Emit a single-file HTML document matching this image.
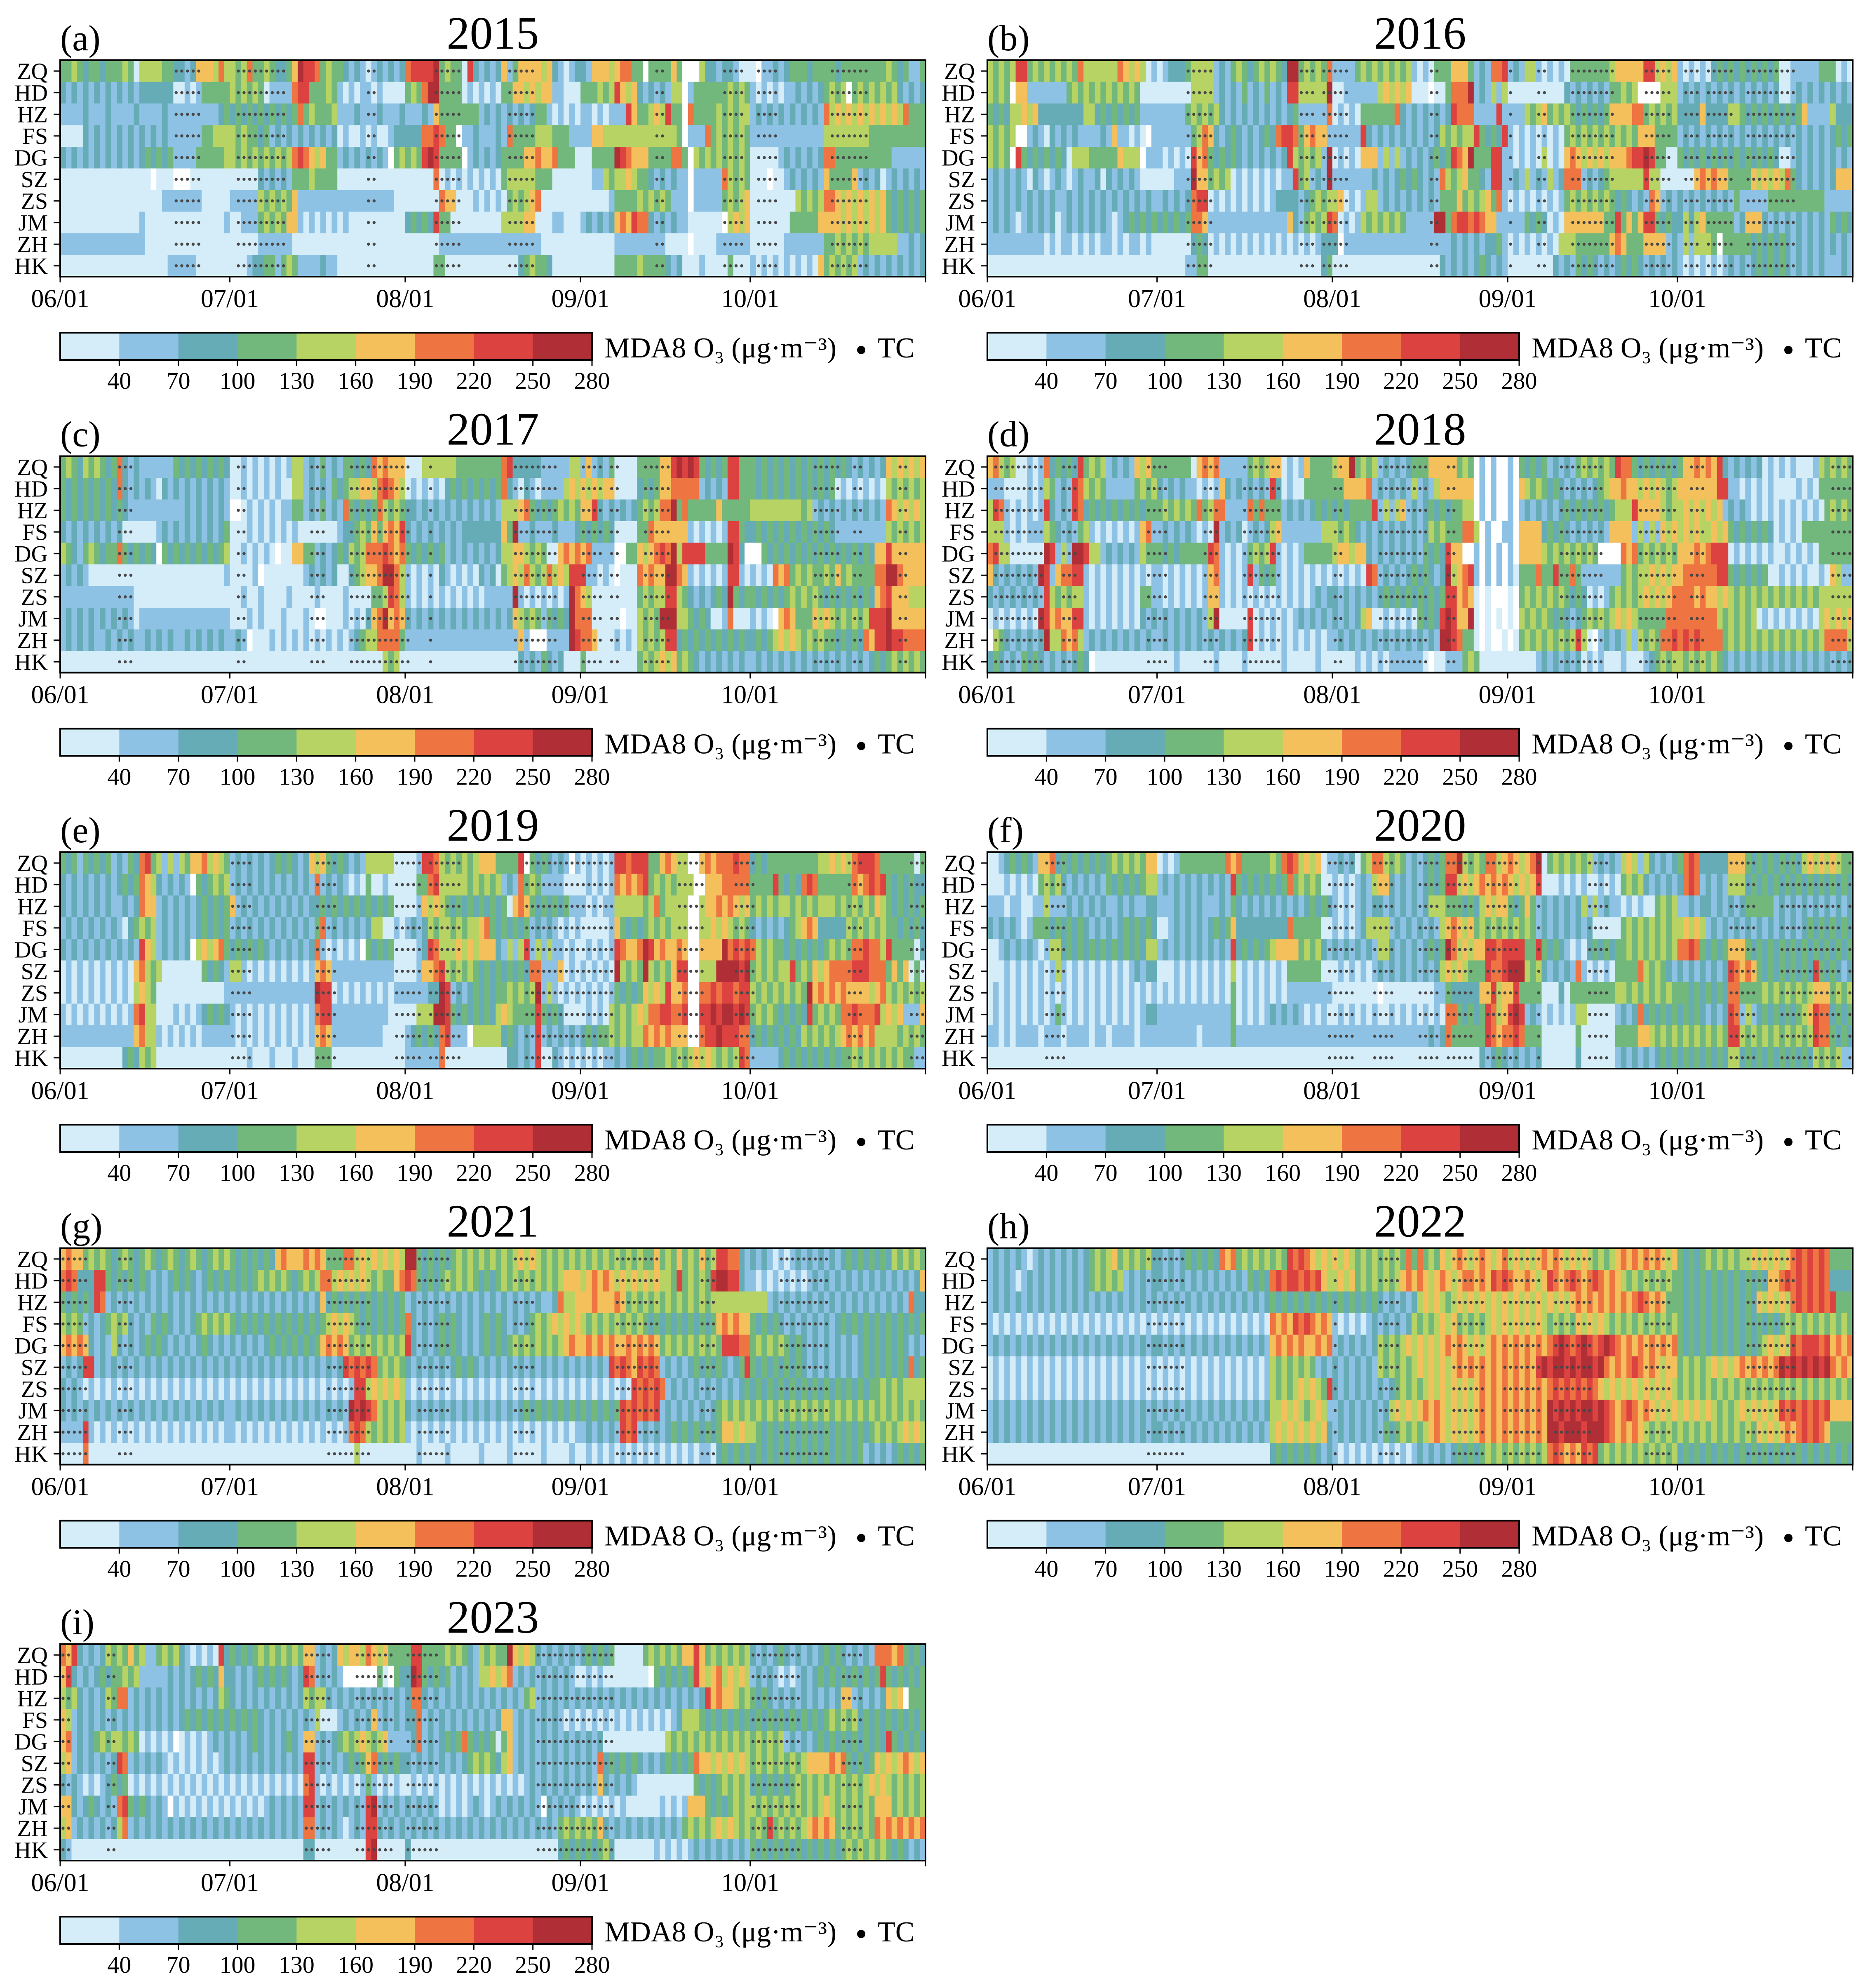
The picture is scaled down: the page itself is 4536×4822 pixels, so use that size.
<!DOCTYPE html>
<html>
<head>
<meta charset="utf-8">
<style>
  html,body{margin:0;padding:0;background:#fff;}
  svg{display:block;}
  text{font-family:"Liberation Serif","DejaVu Serif",serif;fill:#000;}
</style>
</head>
<body>
<svg id="chart" width="4536" height="4822" viewBox="0 0 4536 4822" xmlns="http://www.w3.org/2000/svg"></svg>
<script>
// ===== data =====
const stations = ["ZQ","HD","HZ","FS","DG","SZ","ZS","JM","ZH","HK"];
const years = [2015,2016,2017,2018,2019,2020,2021,2022,2023];
const binTickLabels = [40,70,100,130,160,190,220,250,280];
const dateTickLabels = ["06/01","07/01","08/01","09/01","10/01"];
const dateTickDays = [0,30,61,92,122];
const monthLengths = [30,31,31,30,31];
const binColors = ["#d4edf9","#8dc2e5","#66acb7","#72b87c","#b6d363","#f4c05c","#ee7442","#db4240","#b02e35"];

// MDA8 O3 bin codes per station (0..8 = colour-bar bins, w = missing), months separated by |
const o3_2015 = [
"33 4 32332333 4 3 0 44443 32212 5554 6 4|434 6 3343223 5 8776 34332 1210121212|677778 3433 0 7 21212 5 13 555545 2101 2|215 5545 66 33 w 3333 5 3 www 4 22122100|0w1 121 23332333 3233333 33343 23113",
"21212121212121 222222 00101 33333|434 343 0 1111 6 77 33 343 1010110100 00|343 6 88 3333 0101010 33 5545455 11 000|333 434 7 545 212121 44 w 1 33333 34343|1010101 121212 3434 w 34343434 21212",
"11112111211112111121111 11111 23|232323232323 6 343334 111211121112|11121 5 3333333 1212121212 33 101010|11010111 7 5 33 454 7 33w 6 3333 434344|1212121212121 6 4545454545454 6 333",
"0000 212121212121212 111111 334 44|434 33231212 12121212 0100101001 22|222 6676 33 w 11211121 6 3333 444 333 11|11 55 444444444444 43 w 111 6 3434343|1111111111111 44444444 3333333333",
"212121212121212 32323 1111 333334|43434343434 6 76 545 33 121212121 w 34|343 787 3333 w 121212 3333 556556 333 0|003 333 876 555 3333 66 3 w 4343434343|00000 12121212 66 3333333333 111111",
"0000000000000000 w 000 www 0000000|00000 212121 33343333 000000000000|00000 6 01010101010 34444433 300000|0011 43445433 212121 1 w 11111 6 4343|000w00 1212121 5 3333 5 121201212121",
"000000000000000000 1111111 00000|11111 434343 5 11111111111111111 00|000000 6 55 000101010 3434 56 0000000|000001 3333 434343 111 w 11111 34345|00000000 43434 66 545454545 3232323",
"000000000000001000000000000001|00111 34343 55 1010101010000000000|23232 7 33 000000000 4444 55 00011000|121212 56 5 7 66 212121 1 00000 0 w 4545|0000000 33333 5555 45454545 3232323",
"111111111111111000000000000000|0000011111100000000000000000000|000000 111111111111111111 0000000|000000 111111111 0000 w 0000 111111|000000 1111111 33434343 44444 11212",
"0000000000000000000 11111 000000|0001 22331343 1111211 000000000000|00000 33 0000000000000 234332 00000|000000 333343333 212 000100003000|101010101010 5 343434 121212121212"
];
const o3_2016 = [
"43434 77 343434343 6 444444 6 5454 01|0122 234444 121 3432343432 88 34343 6|1111 3434343434 1010 333 555 3121 66 7|121 44 101010 3333333 455555 77 4545|101010 232323232323 00 11111 333 010",
"4343 w 55 1111111 3434343434343 000|000000 4444 1212131213121 77 44444 8|00 111111 454545 000w00 3 666 8 121414|0000000000 21212121 33434 wwww 444|121212121212121212 00 12121212121",
"3232 44545 22222222 44 23232323 111|11111 343434 2121212121212 3 11111 6|01010 333333 6 212121212 7 666 1111 7 1|111 43453 434 3232323 5555 66 343434|2222 5 2222 44 32323232323 5 1111 4 222",
"43434 ww 121021212111121 5 11010 w 1|111111 3465 21232121232 6776 3 5655 1|11111 7 2121212121212 434344 7 3232 7|1010101010 3434343434343 555 3333|1212121212121212121212121212323",
"4343 w 7 32323232 0 444 33333 5 444 w 11|101010 7 56 32323212121212 7 434341 8|01010 555 1414121212 323 76 5 8 333 77 1|1010104010 565 45454 555 67787 33 00|323232323232323232 00 12121212121",
"121212102101210121 120212121 000|0001 11 8 55 3434 0101010101 1 7 34121 8|1111111 212123232121 6 434 5 3321 77 1|1214121412 666 121234 44444 7 44 000|000 565655 3333 545454 6 32121212 555",
"121212121212112121212121212121|121212 677 010101010101 2222 123434|45 0101 44 12121212121 33 3 5 3434 5 3 6 1|0101010101 34343434 3232121 65 121|2121212121 3 11111 3333333333 11111",
"121210121212012121212101232323|232323 665 11111111111111 5 213434 7|6 0101 43434343 11111 88 3 67 7676 55 11|111 3232010 5555555 33 7 3535 77 3232|2424 5 33333 12 555 2121212121213232",
"111111111101011010101101011010|000000 232 01010101010101010101 22|2 w 1111111111111111111 2121212 23 1|010101010 444 333333 565 333 5555 12|1414 44 3 w 3333 32323232 12121212121",
"000000000000000000000000000000|000001 133 00000000000000000000 23|0000000000000000000 212121232121|00000000 2121323212123232121212|1010101012121232323212121211121"
];
const o3_2017 = [
"3432434323 6 2121 11111 3232323232|00101010101 44 12131213 3232 6 56555|000 444444 33333333 67 22222 11111 44|151213 0000 3333 55 78787 32323 77 33|323232323232323232 121212 5454545",
"3232323232 6 212121 0 212121212121|00101010100 44 12121323 44 55 4 676 54|0101010 2323232323 6 210210 1111 454|545455 0000 2323 5566 666 12121 77 33|323232323232323 010101010 4343434",
"323232323232111111111121212121|ww 010101011 33 1213121 6 32323 6 4343|22121212121212121 444 56 323234343|55 7 2121212 3434 66 8 36 33333 5 33333|4444 4444434 1212121212121 6 545454",
"212121212120000001212121212123|000101010101000 000012 23435 3565 7|21212121212 222222 5 3 8 11211121112|323232 0000 336 555555 1010101 77 32|232323232323232 111111111 4343434",
"4321343233 6 323232 w 32323232323 4|00101010 w 00 55 33 121232 4346 66 7 656|3232323 1212121212 44 55 4343 00 5656|5 6 1111 ww 33545 676 8 4 7777 3333 87 2w|ww 32323232323232323232 55 7 555555",
"121210000000000000000000000001|00001 w 0000000 121212 00234 556 88 64|10101021010102120 345 4 6 434 6 454 77|71 1010 w 000 656 55 88 65 1010101 77 10|1010 656 34343 3435343 333 66 88 6 5555",
"111111111111100000000000000000|0010010000100001000010000 334 76 4|1010101010101011111 8 10101010 1 8 6|54 00000000 34344 77 43 2121232 8 323|3232323434343 232323232 5 67 555 444",
"121212121212101111111111111111|000101000100010 ww 00010102 5 6 8 565|21212121212121212125 434313232 8 6|66 00000 w 00 4343 888 44 3232001 6 000|1010 w 565 333 5454 343434 777 8 555555",
"121212112121211212121121212121|121 w 000101010101010101 2344 6666 3|11111111111111111111 5 1 www 1111 8 7|66 5000 1010 43434 77 2323232323232|2323 4545434343 323232 65 77 8 7 7 6666",
"000000000000000000000000000000|000000000000000000000000000 4340|00000000000000000000 21213212 000|30 00000000 3434545343 2121212121|1212121212121212121212323434343"
];
const o3_2018 = [
"56 434 00101 6 23232 7 3434 12121 545 3|333333 0 5656 11111 343455 0101 5 3333|455 8 3434 121212 333 5555 5343 w1w1ww|1w 32323121213434343 766 32323232|3 556565 7 2121212 0101010001 434343",
"111 000 0101 43 121 76 4343 11111 3434|21212 110101 5 21212121 7 20100 33333|33 5555 6 12121214121 45 55555 w1w1ww|1w 5434 323212121234 55655 4545434|5555555 77 11010101 00001010 333333",
"4 7 6 1010101 7 2121 76 2323232323233|3434343 6 346 6 1111 63 6 333 121212323|2323 333 7 1414 5 121232323 344 w1w1ww|1w 12121212 323232323 444 7 5555 434|45454545 121210101010101010 34343",
"444 1010111 43 2121 34 101010101 56 1|1212121010 8 121201212 45 1111111 44|4343 2121212121212 434 333 66 4w1ww1|1w 5555 232321212121 5555 14141545|454544545 32323232 01010 333333333",
"67 44 000000 87 141 887 44 12121214 33|323233333 76 10101 3434 7 10101 33333|455455 21212121213232 7 55 ww 1w1w1w|1w 5555 4343434343 wwww 656 3434343|555656 777 0101010100101010 333333",
"5 21212121 87 15 66 77 1010101010101|101010101 56 10101 7 1323 1010101010|101010 76 121212323212 8 456 7 1w1w1w|103 3363 373 363 111 1111 3434 454545|5666666 77 3232323 00101010010 54 11",
"2121212121 7 4343 44 1010101010 33 1|101010101 55 10101010101010101212|21212121232323232323 77 565 0w0www|0w 34343434 32320101 343434 545456|666565 5454 343434343434343 444444",
"010101010 87 565 577 1010101010212|121212121 48 00000 7 01010101212121|21212 45 001010103232 787 55 8 0w0w0w|0w 43434323212343434 5454 33333 66|666666 6 4343434 01010101010 454545",
"w 432121212 8 44 656 4 1212121212121|1212121212121212 7 01010101010101|1212121212121212121 887 6 33 0w0ww0|w0 3434343434 7 40 w 1212 1414343 667|67676666 343434343434343434 6666 4",
"232121323212121232 w000 00000000|0001000000100001000000100000100|00001010101111110 w00 111 343 00000|00000 1212121201010 00100012 3434|43434343 21212121212121212121212"
];
const o3_2019 = [
"32313232312132 6 7 34141435 56454 3|12121212323212 545 3232121 44444 00|001 77 6 4343434 555 3333 7 w 3232121 w 1|010101 77 6 777 33 565 44 ww 5656 66766|2323 33333333 445454 67776 3333 3303",
"21212121212 323 6 54 212121 w 323434|121212121212121 6 121210103 001000|0033 67 44444343434 121 6 343 1111 000|010101 656567 34343 444 ww 555 66666|3333 7 3232 676 333333 65676 7 3232322",
"21212121211212 6 55 1212121 232323|5 12121212121212 23232323232323 00|001 5454 32323232323 0 565 3232323 11|101011 44444 3463 4444 ww 455656545|34343 44343434443434343 5 4 3232323",
"1212121212102 3434 1212121 232323|121212121212121 3 6 12121212 44 0010|1212 434434344 5 6 3232323 121210101|000001 5 3232343434 44 ww 445454343|212121234 565 22222 43434343 323232",
"21212121212121 7 54 121212 w 454563|232323212121212 6 1010101 w 32323 00|0012 76 4445454 555 21414 7 141411010|010101 7 655 6 8 7 565565 ww 5555 8 6767|6 4343 32323232 34343 66766 4 7 3333 02",
"0101010101010 56 434 0000000 32321|44 1010101010101 565 11111111111 00|001 556 7 434343232323232 66 111 5 010|101010 8 4343 8 43435 77 ww 444 888878|34343 44 7 343545 6666 777 666 3535 030",
"0101010101010 4543 0000000000001|111111111111111 877 0101010101011|11112 287 121232323 343434 8 1410101|010101 32323 5454 7 556 ww 667677677|4343434343 8 5656565 555456 4343434",
"1010101010101 67 44 00010101 23232|101010101010101 677 1111111111000|0044 4 887 32323232 454 333 3 7 3232000|0101043 43454 6677667 ww 778788787|34343 23232 7 34343 6676667 4545 111 5",
"1111111111111 56 44 1010101011111|101010101010101 565 1111111110000|123 232 67 111 w 44444 232121 7 1212121|232334 34344 6565655 5 ww 677877766|232323232 4343434 565656 444434343",
"00000000000 232434 0000000000000|000100010001000 333 0000000000000|111111 6 00000000000 22121 7 0021010|101011 21232323 34343454543434 76|11111 232323232323 34343434343 311"
];
const o3_2020 = [
"001 232321 55 6 232323232 3434343 55|0101 33333333 656 3333343 676 4545 01|1212 034 66 4343 1212323 66 8 4343 66 45|65456 8 034343434 12121 45414 21212|3 676 22222 555 3232323232 4545454 33",
"000 101010 3434 21212121 3232323 44|1212121212121 7 323232323 6 34343 00|1010121 455 212121232 377 45456 5656|54545 7 000101010 01010 3434 212121|2 676 12121 444 2323232323232323232",
"111011001141112121212112121122|1112121211121 3 21212121212123232|10101212 212121212 444 333232 45455|32353 12121212 414121 10101003434|11212 2121212 33333 12121212121212",
"212121013332323232121212323232|00 12121212323 5 222222222 6 3333300|101012 4444 121212121 456545 343434|34343 1212121212 00000 3434343434|45454 12121212121212121232323232",
"001 21212101 44 232323232323232 44|1212121212121 7 232323 45555 343421|21212121 44 212121232 3 8 6 4545 5 77 67|7 77 33 7 32321010 232323 3434343434|6676 32323 555 3232323232323232323",
"000101010101410101010101012122|0001010101010 4 010101010 333333 00|0101010121212121212 45454 333 7667|888 434 212121 6 101010 3333 6 434321|212121212 76 565 3232323232 7 323212",
"010101010101010101010101010101|0101010101010 3 01010101011111111|00000000 w 00000000011 32222 255 7 45|5 7 3333 00020 33333333 44343434343|332323232 66 3333 434343434 555 3434",
"010101010101310101010101010122|1111111111111 3 01010121212101010|0101010100101010101 066 32323 76 45|787 121 010101 44 00000 1212 6 232323|232321212 76 141 2323232345 766 2323",
"110101111011101111011011110111|1111111011111 3 11111111111111111|11111111111111111212 63 33333 76 56|676 333 000000 3 000000 3333 55 43434|343434343 77 4343434343434 766 3232",
"000000000000000000000000000000|0000000000000000000000000000000|00000000000000000000000000 21232|121212 000000 2 000000 12121212323|232323232 44 2323232323232 43434 11"
];
const o3_2021 = [
"5655 34343234323432343234323434|32323232 565556565 333 66 454545454|88 3232323 43434343434 54543434343|434343434343 353435343534 77 66 21|21210101212121212 32323232 434343",
"676 222 77 3232323212123232123232|3232343434323434 66 454545434 3356|76 32323434343232343434343434 555|45656 5454545454 437 34343 78877 21|1010101010121212121212121212125",
"323232 76 1212121212121212121212|1212121212121212 5 23232323232323|1212121212121212121212121 126 445|55655565 34343434343434 34444444|444 1212121212121212121212121 6 22",
"434312123434212132321212343434|3232323232323232345454323232323|6 212123232121232321212343454545|434343434343232323232323 565655|3232321212121212323232323232323",
"56565 21214 21212323212121232121|2121212323232323 56565 3434343434|7 212123232121232323434343434 565|56565655656565 34343434343 77766|3434343232121212121232323232121",
"1212 77 121212121212121212121212|12121212121212121212 767676 34343|2121212123232121212121212121212|12121 767657676 121212323232123 7|3232323232121212121232323232623",
"212101010101010101010101010101|0101010101010101010101774545454|1010101010101010101010101010101|010101010 767676 121212121212123|2323232323232323232323343434444",
"212121212121212121212121212121|121212121212121212121 87876 43434|2121212121212121212123232323232|3232323 7676767 1212121212343434|3434343434343434343434343434343",
"111171010101010101010101010101|101010101010101010101 676 4343434|1010101010101010101010101010101|1212121 767 121212323232323 55454|4323232323232323232323434345454",
"000060000000000000000000000000|0000000000000000000000400000000|0010000100000100001000001000010|010101010101010101010110 232323|2323232323232323232312121232323"
];
const o3_2022 = [
"121212101212121212 34345343434 2|21212323232 656 343434343 7676 5454|545434343434 3636343 545654565456|4545456565454543434 56565656545|323234343434 45454545 6767676 3333",
"121210121212121212343434121212|21212121212121213232 676776767 54|454534343434 565654565456 6565767|6556545 7656765676565 4343434343|3232323232323232 55 676767676 2222",
"121212121212121212121212121212|1212121212121212121232323232323|23232323212121245454 34545454545|45454545454 56565656565676565 33|32323232323232 545454 67676767 333",
"101010101010101010101010101010|1010101010101010101065657676565|1010101212121243434545343434545|454545434343545454343434343434|3232323232323232323434343434343",
"121212121212121212121212121212|2121212121212121212156565655656|1212121243434545454565654545656|5656565 6787678767876 5656565656|32323232323232345454 7677767 5656",
"010101010101010101010101010101|0101010101010101010143434343121|2121212143434345454545656565656|56565 787887878878 6565676565455|343434545456565656 878787878 6565",
"010101010101010101010101010101|0101010101010101010143434545437|2121212121234343454545454565656|5656565 676767676 54545454545454|3434343434343434343434343434343",
"121212121212121212121212121212|1212121212121212121244545434541|1212121212454545656545454565656|5656565 87878788787 656765654545|454545434345454545 767676767 5555",
"121212121212121212121212121212|2121212121212121212145454545452|1212121213234343456545454565656|5656565 88788878887 656565434343|434343434343435454 565676765 3333",
"000000000000000000000000000000|0000000000000000000023232323212|1010101010101012121212323234343|4343434 676565767 34343434343434|2323232323232323232323232323232"
];
const o3_2023 = [
"65 7 21212 434 3534 11 3434 2101010 7 2|3232343434343 55 1212 545546545 333|3 77 3333 4343214343 3 8 5454 21212121|232323 00000 3434343 55 7 5 34343434|2121232121212323212121 66656 3232",
"5 7 21212323 3434 11111 212123232 5 2|2121232323212 76 12121 wwwwww 3 0 w 32|2 87 32323121214 4545 6 121212121210|010100 000000 w 3232323 7 545645454|121210101212 32323232323 7 3232323",
"434 21212 43 66 121212121212121 243|2121212121212434421212121212121|2 66 212121212121212121 34 12121212|1212121212121212121212 7 5655 434|3232121212121212 55 121212 545 w 333",
"541212121212121212121232323232|3232321212121214000121212512121|2 2 6 12121212121212 55 121212121010|101010101010101012 444 323232323|2323232323232343434232323232323",
"56 12123434 4343 010101 w 010101212|1212321212321 55 1212 343454345 111|1 26 121232 3 6 32323 0 3 5 121212121212|121200 000000000 4343434 34343434|343434121212323232323232 7 323232",
"45 12121212 76 121212101010101012|1212121212121 77 121212323 56 23232|21212121212343432 45 121212121212|121 6 2323232121232323 65 54545454|3434343434 555565 6 32323 545456545",
"212101012323010101010101010101|0101010101010 67 1010101013101010|0101010101010101010101212121212|121 5 212121000000 00003232343434|2323232343434343434345454343434",
"55 21232121 67 3232121 w 1010101010|1010101212121 77 121212121 78 12121|212121010101210121212121 w 212121|0101010100000010101 555 32323434|4343434343434543434343 555 343434",
"45 12121212 46 121212121212121212|1212121212121 66 121210121 77 21212|1212121212121212121212121213434|343 5 21212121212121 343434545434|343 7 343434 56565 3434343 65656 5656",
"210000000000000000000000000000|0000000000000 22 000000000 78 00000|2000000000000000000000000002323|232342000000010101012121212121|3232323232323232343434343232121"
];

// tropical cyclone (TC) days, as day index from 06/01
const tc_2015 = [20,21,22,23,24,31,32,33,34,35,36,37,38,39,54,55,66,67,68,69,70,79,80,81,82,83,105,106,117,118,119,120,123,124,125,126,136,137,138,139,140,141,142];
const tc_2016 = [35,36,37,38,39,55,56,57,59,60,61,62,63,78,79,92,97,98,103,104,105,106,107,108,109,110,116,117,118,119,120,123,124,125,127,128,129,130,131,134,135,136,137,138,139,140,141,142];
const tc_2017 = [10,11,12,31,32,44,45,46,51,52,53,54,55,56,57,58,59,60,61,65,80,81,82,83,84,85,86,87,92,93,94,95,97,98,103,104,105,106,107,133,134,135,136,137,140,141,148,149];
const tc_2018 = [1,2,3,4,5,6,7,8,9,13,14,15,28,29,30,31,38,39,40,45,46,47,48,49,50,51,61,62,69,70,71,72,73,74,75,76,77,81,82,101,102,103,104,105,106,107,108,115,116,117,118,119,120,121,124,125,126,149,150,151,152];
const tc_2019 = [30,31,32,33,45,46,47,48,59,60,61,62,63,65,66,67,68,69,70,82,83,84,85,86,87,88,89,90,91,92,93,94,95,96,97,109,110,111,112,113,119,120,121,122,139,140,141,150,151,152];
const tc_2020 = [10,11,12,13,60,61,62,63,64,68,69,70,71,76,77,78,79,81,82,83,84,85,88,89,90,91,92,93,97,106,107,108,109,131,132,133,134,135,140,141,142,143,144,145,146,147,148,149,150,152];
const tc_2021 = [0,1,2,3,4,10,11,12,47,48,49,50,51,52,53,54,63,64,65,66,67,68,80,81,82,83,98,99,100,101,102,103,104,105,113,114,115,127,128,129,130,131,132,133,134,135];
const tc_2022 = [28,29,30,31,32,33,34,61,69,70,71,72,82,83,84,85,86,87,91,92,93,94,95,96,97,100,101,102,103,104,105,106,116,117,118,119,120,134,135,136,137,138,139,140,141,142];
const tc_2023 = [0,1,8,9,43,44,45,46,47,52,53,54,55,56,57,58,61,62,63,64,65,66,84,85,86,87,88,89,90,91,92,93,94,95,96,97,122,123,124,125,126,127,128,129,130,138,139,140,141];

const o3Series = [o3_2015,o3_2016,o3_2017,o3_2018,o3_2019,o3_2020,o3_2021,o3_2022,o3_2023];
const tcSeries = [tc_2015,tc_2016,tc_2017,tc_2018,tc_2019,tc_2020,tc_2021,tc_2022,tc_2023];
const panelLetters = ["(a)","(b)","(c)","(d)","(e)","(f)","(g)","(h)","(i)"];

// ===== layout =====
const NSURI = 'http://www.w3.org/2000/svg';
const svg = document.getElementById('chart');
const COL_X = [146, 2395];
const ROW_Y0 = 146, ROW_STEP = 960.5;
const PW = 2099, PH = 525;
const ND = monthLengths.reduce((a,b)=>a+b,0);

function el(tag, attrs, parent){
  const e = document.createElementNS(NSURI, tag);
  for (const k in attrs) e.setAttribute(k, attrs[k]);
  parent.appendChild(e);
  return e;
}
function parseRow(s){
  const parts = s.split('|');
  const out = [];
  monthLengths.forEach((n,i)=>{
    let p = (parts[i]||'0').replace(/\s/g,'');
    if (!p.length) p = '0';
    while (p.length < n) p += p[p.length-1];
    out.push(...p.slice(0,n).split(''));
  });
  return out;
}
function codeColor(c){ return c === 'w' ? '#ffffff' : binColors[+c]; }

years.forEach((year, p)=>{
  const col = p % 2, row = Math.floor(p/2);
  const x0 = COL_X[col], y0 = ROW_Y0 + row*ROW_STEP;
  const xScale = d => x0 + d*PW/ND;
  const yScale = i => y0 + i*PH/stations.length;

  const g = el('g', {}, svg);
  
  

  // cells
  const cells = el('g', {}, g);
  
  
  o3Series[p].forEach((rowStr, si)=>{
    const codes = parseRow(rowStr);
    let d = 0;
    while (d < ND){
      let e = d;
      while (e+1 < ND && codes[e+1] === codes[d]) e++;
      const r = el('rect', {x: xScale(d).toFixed(2), y: yScale(si).toFixed(2),
        width: (xScale(e+1)-xScale(d)+0.6).toFixed(2), height: (PH/stations.length+0.6).toFixed(2),
        fill: codeColor(codes[d])}, cells);
      
      
      d = e+1;
    }
  });

  // TC dots
  const dots = el('g', {fill:'#474747'}, g);
  
  
  tcSeries[p].forEach(day=>{
    stations.forEach((st, si)=>{
      const c = el('circle', {cx: xScale(day+0.5).toFixed(2), cy: yScale(si+0.5).toFixed(2), r: 3.7}, dots);
      
      
    });
  });

  // frame
  const fr = el('rect', {x:x0, y:y0, width:PW, height:PH, fill:'none', stroke:'#000', 'stroke-width':4}, g);
  
  

  // y axis
  stations.forEach((st, si)=>{
    const cy = yScale(si+0.5);
    const t = el('line', {x1:x0-16, y1:cy, x2:x0, y2:cy, stroke:'#000', 'stroke-width':3}, g);
    
    
    const lb = el('text', {x:x0-30, y:cy+19, 'text-anchor':'end', 'font-size':56}, g);
    lb.textContent = st;
    
    
  });

  // x axis
  [...dateTickDays, ND].forEach(day=>{
    const x = xScale(day);
    const t = el('line', {x1:x, y1:y0+PH, x2:x, y2:y0+PH+14, stroke:'#000', 'stroke-width':3}, g);
    
    
  });
  dateTickLabels.forEach((lab, k)=>{
    const lb = el('text', {x:xScale(dateTickDays[k]), y:y0+599, 'text-anchor':'middle', 'font-size':62}, g);
    lb.textContent = lab;
    
    
  });

  // title & letter
  const ti = el('text', {x:x0+PW/2, y:y0-28, 'text-anchor':'middle', 'font-size':112}, g);
  ti.textContent = String(year);
  
  
  const le = el('text', {x:x0, y:y0-24, 'font-size':88}, g);
  le.textContent = panelLetters[p];
  
  

  // colorbar
  const cb = el('g', {}, g);
  
  
  const cbx = x0, cby = y0+661, cbw = 1290, cbh = 66, seg = cbw/binColors.length;
  binColors.forEach((c, k)=>{
    const r = el('rect', {x:(cbx+k*seg).toFixed(2), y:cby, width:(seg+0.5).toFixed(2), height:cbh, fill:c}, cb);
    
    
  });
  const cbf = el('rect', {x:cbx, y:cby, width:cbw, height:cbh, fill:'none', stroke:'#000', 'stroke-width':4}, cb);
  
  
  binTickLabels.forEach((v, k)=>{
    const x = cbx + (k+1)*seg;
    const t = el('line', {x1:x, y1:cby+cbh, x2:x, y2:cby+cbh+14, stroke:'#000', 'stroke-width':3}, cb);
    
    
    const lb = el('text', {x:x, y:cby+136, 'text-anchor':'middle', 'font-size':58}, cb);
    lb.textContent = String(v);
    
    
  });
  const lt = el('text', {x:x0+1320, y:y0+721, 'font-size':70}, g);
  lt.textContent = 'MDA8 O\u2083 (\u03bcg\u00b7m\u207b\u00b3)';
  
  
  const ld = el('circle', {cx:x0+1943, cy:y0+703, r:10, fill:'#000'}, g);
  
  
  const ltc = el('text', {x:x0+1983, y:y0+721, 'font-size':70}, g);
  ltc.textContent = 'TC';
  
  
});
</script>
</body>
</html>
